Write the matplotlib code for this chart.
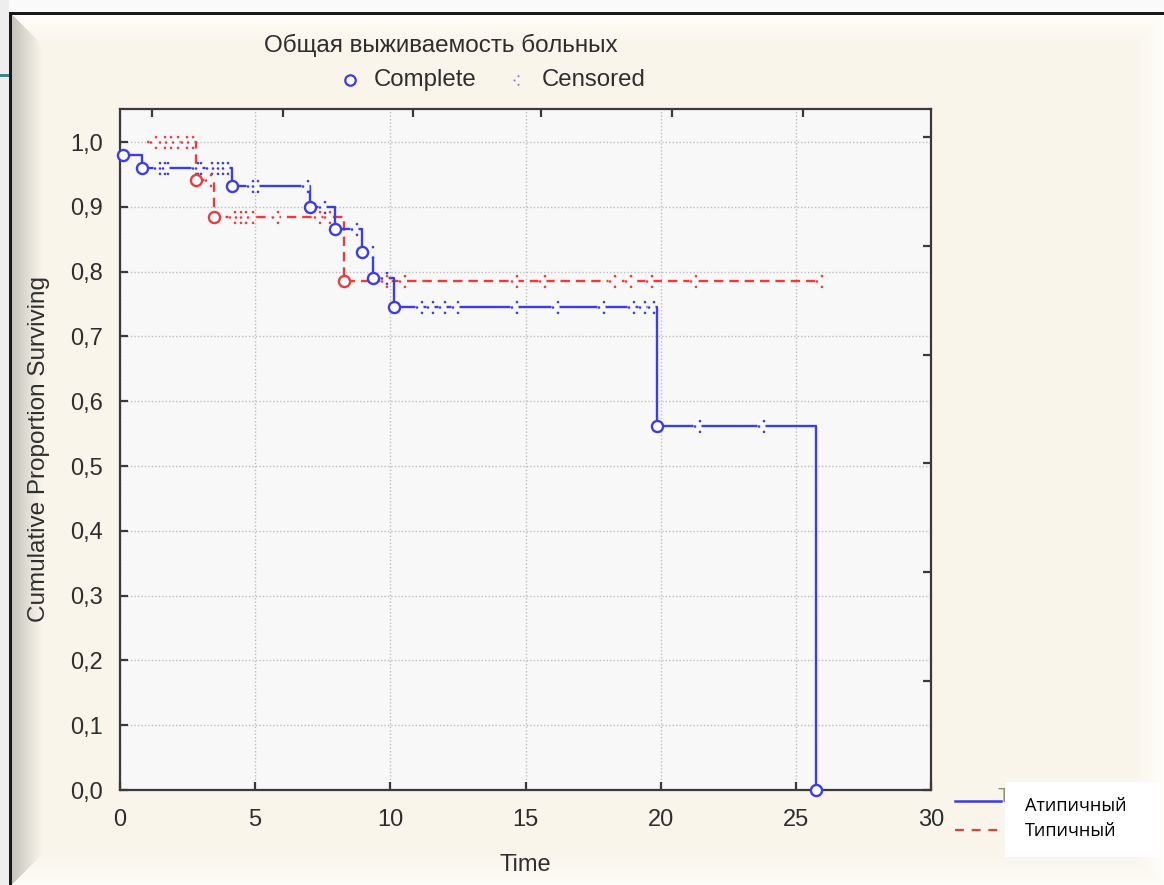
import numpy as np
import matplotlib
matplotlib.use("Agg")
import matplotlib.pyplot as plt
from matplotlib.path import Path
from matplotlib.lines import Line2D
from matplotlib.patches import Rectangle
from matplotlib.ticker import FuncFormatter

# ---------------- data ----------------
# Атипичный (blue): event times and survival after each event
atyp_time = [0.1, 0.8, 4.14, 7.04, 7.96, 8.94, 9.36, 10.12, 19.88, 25.74]
atyp_surv = [0.980, 0.960, 0.932, 0.899, 0.865, 0.830, 0.790, 0.746, 0.561, 0.0]
atyp_cens = [1.36, 1.54, 1.67, 2.78, 2.90, 3.30, 3.50, 3.70, 3.90, 4.81, 5.00,
             6.85, 7.47, 8.64, 9.25, 9.75, 11.05, 11.48, 11.91, 12.41, 14.57,
             16.10, 17.78, 18.89, 19.32, 19.63, 21.36, 23.70]

# Типичный (red): start, event times and survival after each event
typ_time = [1.0, 2.82, 3.46, 8.27]
typ_surv = [1.0, 0.942, 0.885, 0.786]
typ_last = 25.9
typ_cens = [1.23, 1.54, 1.79, 2.04, 2.35, 2.60, 3.27, 4.14, 4.35, 4.55, 4.80,
            5.74, 7.30, 7.65, 9.75, 10.43, 14.57, 15.60, 18.20, 18.80, 19.57,
            21.20, 25.86]

x_ticks = [0, 5, 10, 15, 20, 25, 30]
y_ticks = [0.0, 0.1, 0.2, 0.3, 0.4, 0.5, 0.6, 0.7, 0.8, 0.9, 1.0]
top_ticks = [1.17, 6.03, 10.83, 15.57, 20.41, 25.26]
right_ticks = [0.0, 0.168, 0.336, 0.504, 0.672, 0.840, 1.007]

title_text = "Общая выживаемость больных"
group_labels = ["Атипичный", "Типичный"]

# ---------------- figure ----------------
W, H = 1164, 885
DPI = 100
fig = plt.figure(figsize=(W / DPI, H / DPI), dpi=DPI)
fig.patch.set_facecolor("#f6f6f6")

def fx(x):
    return x / W

def fy(y):
    return 1 - y / H

# background frame image (decoration)
beige = np.array([249, 245, 235]) / 255.0
img = np.ones((H, W, 3)) * beige
yy, xx = np.mgrid[0:H, 0:W]
B = 30.0
dl = xx - 11
dt = yy - 14
db = H - 1 - yy
dr = W - 1 - xx
inside = (dl >= 0) & (dt >= 0)
dists = np.stack([dl, dt, db, dr]).astype(float)
which = np.argmin(dists, axis=0)
dmin = np.min(dists, axis=0)
starts = [np.array([196, 194, 186]) / 255.0,
          np.array([255, 254, 250]) / 255.0,
          np.array([254, 252, 247]) / 255.0,
          np.array([255, 254, 249]) / 255.0]
for k in range(4):
    m = inside & (which == k) & (dmin < B)
    t = (dmin[m] / B)[:, None]
    img[m] = starts[k] * (1 - t) + beige * t
img[:12, :] = np.array([250, 250, 250]) / 255.0
img[:, :9] = np.array([238, 238, 238]) / 255.0
img[12:15, 9:] = np.array([25, 25, 25]) / 255.0
img[12:, 9:12] = np.array([25, 25, 25]) / 255.0
img[74:77, 0:9] = np.array([70, 130, 140]) / 255.0
fig.figimage(img, xo=0, yo=0, origin="upper", zorder=-10)

# ---------------- axes ----------------
ax = fig.add_axes([fx(120), fy(790), (931 - 120) / W, (790 - 109) / H])
ax.set_facecolor("#f8f8f8")
ax.set_xlim(0, 30)
ax.set_ylim(0, (790 - 109) / 648.0)

BLUE = "#3b3bef"
RED = "#ec3b3b"
TXT = "#2e2e2e"
FONT = "Liberation Sans"

ax.grid(True, which="major", color="#bdbdbd", linestyle=(0, (1, 1.5)), linewidth=1.0)
ax.set_axisbelow(True)
for s in ax.spines.values():
    s.set_color("#3a3a3a")
    s.set_linewidth(1.6)

ax.set_xticks(x_ticks)
ax.set_yticks(y_ticks)
ax.yaxis.set_major_formatter(FuncFormatter(lambda v, p: f"{v:.1f}".replace(".", ",")))
ax.tick_params(direction="in", length=6, width=1.6, color="#3a3a3a",
               labelsize=17, labelcolor=TXT)
ax.tick_params(axis="y", pad=12)
ax.tick_params(axis="x", pad=14)
for lab in ax.get_xticklabels() + ax.get_yticklabels():
    lab.set_fontfamily(FONT)

secx = ax.secondary_xaxis("top")
secx.set_xticks(top_ticks)
secx.set_xticklabels([])
secx.tick_params(direction="in", length=6, width=1.6, color="#3a3a3a")
secx.spines["top"].set_visible(False)
secy = ax.secondary_yaxis("right")
secy.set_yticks(right_ticks)
secy.set_yticklabels([])
secy.tick_params(direction="in", length=6, width=1.6, color="#3a3a3a")
secy.spines["right"].set_visible(False)

ax.set_xlabel("Time", fontsize=17, family=FONT, color=TXT, labelpad=16)
ax.set_ylabel("Cumulative Proportion Surviving", fontsize=17.5, family=FONT,
              color=TXT, labelpad=15)

# censored marker: dot left, colon right
circ = Path.unit_circle()
def dot(cx, cy, r):
    return Path(circ.vertices * r + np.array([cx, cy]), circ.codes)
R = 1.3
cens_path = Path.make_compound_path(dot(-2.5, 0, R), dot(2.5, 5.4, R), dot(2.5, -5.4, R))
cens_ms = 2 * (5.4 + R) * 72 / DPI

def surv_at(times, survs, t):
    idx = np.searchsorted(np.asarray(times), np.asarray(t), side="right") - 1
    return np.asarray(survs)[idx]

# blue curve
ax.step(atyp_time, atyp_surv, where="post", color=BLUE, lw=1.7, zorder=4)
# red curve
ax.step(typ_time + [typ_last], typ_surv + [typ_surv[-1]], where="post",
        color=RED, lw=1.7, linestyle=(0, (4, 2.5)), zorder=3)

for times, survs, cens, col, zb in [(atyp_time, atyp_surv, atyp_cens, BLUE, 5),
                                    (typ_time, typ_surv, typ_cens, RED, 5)]:
    cy = surv_at(times, survs, cens)
    ax.plot(cens, cy, linestyle="none", marker="s", ms=5.5, mec="none",
            mfc="#f8f8f8", zorder=zb, clip_on=False)
    ax.plot(cens, cy, linestyle="none", marker=cens_path, ms=cens_ms, mec="none",
            mfc=col, zorder=zb + 1, clip_on=False)

ax.plot(atyp_time, atyp_surv, linestyle="none", marker="o", ms=8, mfc="white",
        mec=BLUE, mew=1.7, zorder=8, clip_on=False)
ax.plot(typ_time[1:], typ_surv[1:], linestyle="none", marker="o", ms=8, mfc="white",
        mec=RED, mew=1.7, zorder=8, clip_on=False)

# ---------------- top legend ----------------
fig.text(fx(441), fy(45), title_text, ha="center", va="center", fontsize=17.5,
         family=FONT, color=TXT)
fig.add_artist(Line2D([fx(350)], [fy(80)], transform=fig.transFigure, marker="o",
                      ms=7.5, mfc="white", mec=BLUE, mew=1.6, linestyle="none"))
fig.text(fx(374), fy(80), "Complete", ha="left", va="center", fontsize=17.3,
         family=FONT, color=TXT)
fig.add_artist(Line2D([fx(516)], [fy(80)], transform=fig.transFigure, marker=cens_path,
                      ms=cens_ms * 0.8, mfc="#7d7dd8", mec="none", linestyle="none"))
fig.text(fx(542), fy(80), "Censored", ha="left", va="center", fontsize=17.3,
         family=FONT, color=TXT)

# ---------------- bottom-right legend ----------------
fig.add_artist(Line2D([fx(955), fx(1001)], [fy(801), fy(801)], transform=fig.transFigure,
                      color=BLUE, lw=1.8))
fig.add_artist(Line2D([fx(955), fx(1001)], [fy(830), fy(830)], transform=fig.transFigure,
                      color=RED, lw=1.6, linestyle=(0, (4, 3.5))))
fig.text(fx(998), fy(797), "Т", ha="left", va="center", fontsize=15, family=FONT,
         color="#9a8a6a", zorder=1)
fig.add_artist(Rectangle((fx(1005), fy(857)), (1160 - 1005) / W, (857 - 782) / H,
                         transform=fig.transFigure, facecolor="white",
                         edgecolor="none", zorder=2))
fig.text(fx(1025), fy(806), group_labels[0], ha="left", va="center", fontsize=13,
         family=["Open Sans", "DejaVu Sans"], color="black", zorder=3)
fig.text(fx(1025), fy(831), group_labels[1], ha="left", va="center", fontsize=13,
         family=["Open Sans", "DejaVu Sans"], color="black", zorder=3)

fig.savefig("out.png", dpi=DPI, facecolor=fig.get_facecolor())
